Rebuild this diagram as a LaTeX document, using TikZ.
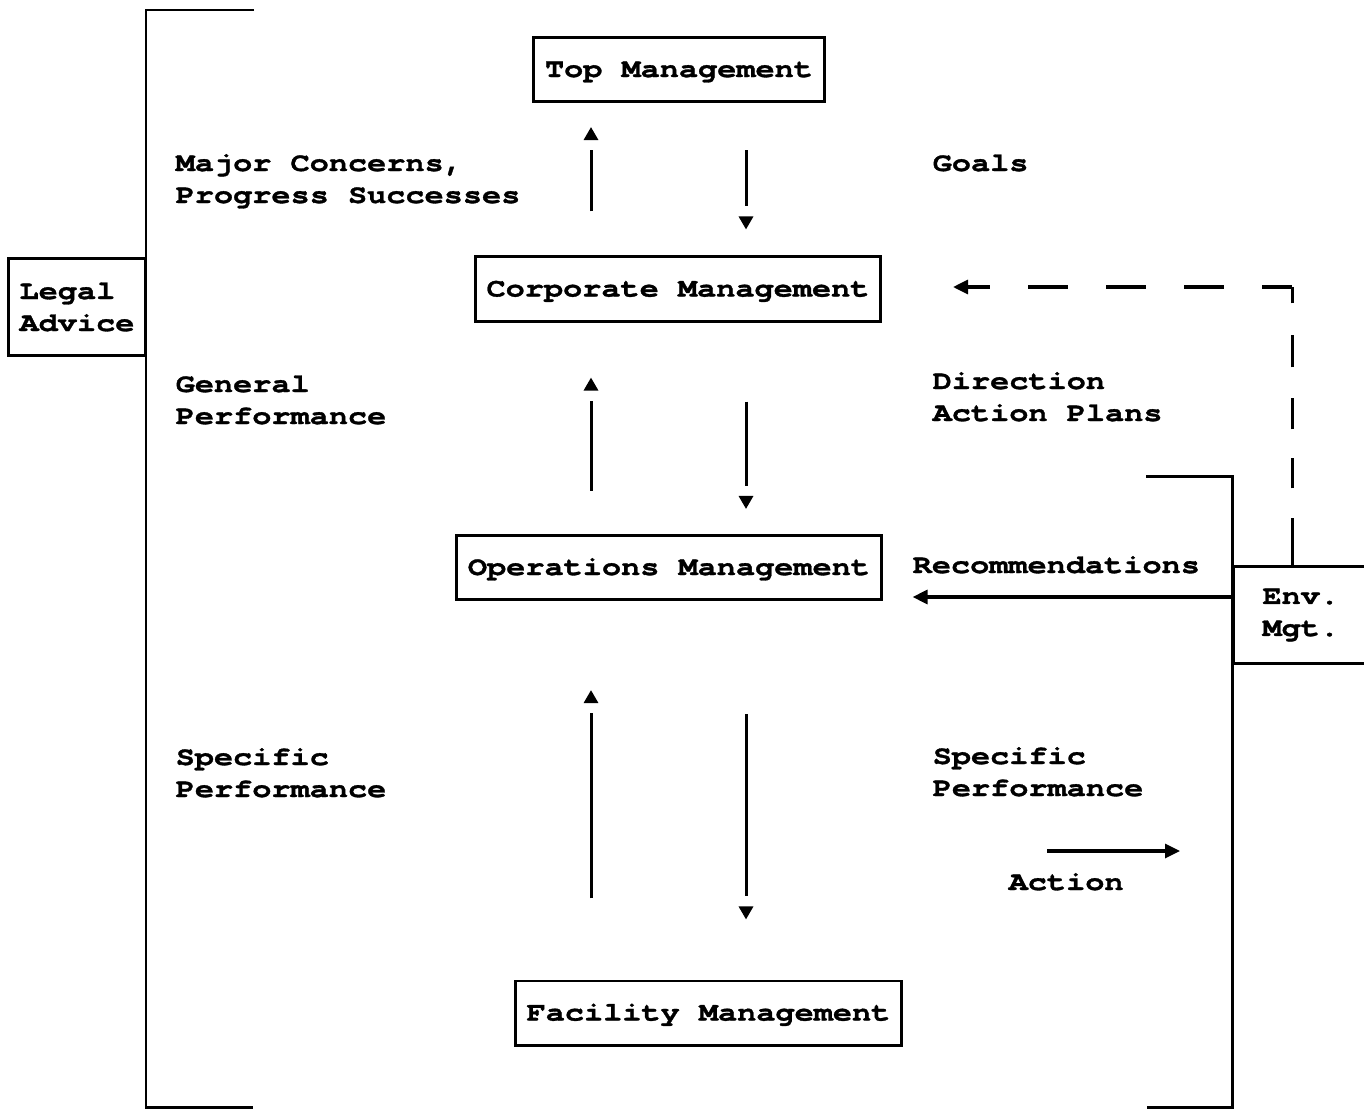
\documentclass[tikz,border=0pt]{standalone}
\usepackage{fontspec}
\setmainfont{texgyrecursor}[Extension=.otf, UprightFont=*-regular, BoldFont=*-bold,
  FakeStretch=1.21, Ligatures=NoCommon, BoldFeatures={FakeBold=1.2}]
\usetikzlibrary{arrows.meta, decorations.markings}

\tikzset{
  mgmt/.style={draw, line width=0.85pt, inner xsep=0.11cm, inner ysep=0pt, minimum height=0.64cm, text height=0.15cm, text depth=0pt},
  side/.style={draw, line width=0.85pt, align=left, inner xsep=0.11cm},
  note/.style={anchor=base west, align=left, inner sep=0pt},
  rail/.style={line width=0.85pt},
  % shaft stops short of the head: #1 = head position, #2 = shaft end
  flow/.style 2 args={rail, shorten >=#2,
    postaction={decorate, decoration={markings,
      mark=at position -#1 with {\arrow{Triangle[width=0.14cm,length=0.13cm]}}}}},
  feed/.style={line width=0.9pt, -{Triangle[width=0.14cm,length=0.15cm]}},
}

\begin{document}
\begin{tikzpicture}[x=0.01cm, y=-0.01cm, every node/.style={font=\fontsize{7.5}{9.1}\selectfont\bfseries}]
\useasboundingbox (0,0) rectangle (1364,1109);
\clip (0,0) rectangle (1364,1109);

% management levels
\node[mgmt] (top) at (679,69.5) {Top Management};
\node[mgmt] (corp) at (678,289) {Corporate Management};
\node[mgmt] (ops) at (669,567.5) {Operations Management};
\node[mgmt] (fac) at (708.5,1013) {Facility Management};

% side functions
\node[side, minimum width=1.36cm, minimum height=0.97cm] (legal) at (77,307) {Legal\\Advice};
\node[side, anchor=west, text width=1.4cm, inner xsep=0.29cm, minimum height=0.96cm] (env) at (1232,615) {Env.\\Mgt.};

% flow labels (base = last line)
\node[note] (concerns) at (175,203) {Major Concerns,\\Progress Successes};
\node[note] (goals) at (932,171) {Goals};
\node[note] (general) at (175,424) {General\\Performance};
\node[note] (direction) at (932,421) {Direction\\Action Plans};
\node[note] (recs) at (912,573) {Recommendations};
\node[note] (specl) at (175,797) {Specific\\Performance};
\node[note] (specr) at (932,796) {Specific\\Performance};
\node[note] (action) at (1008,890) {Action};

% reporting up / directing down
\coordinate (upx) at (591,0);
\coordinate (downx) at (746,0);
\draw[flow={0.24cm}{0.47cm}, shorten <=0.44cm] (corp.north -| upx) -- (top.south -| upx);
\draw[flow={0.26cm}{0.49cm}, shorten <=0.47cm] (top.south -| downx) -- (corp.north -| downx);
\draw[flow={0.55cm}{0.78cm}, shorten <=0.43cm] (ops.north -| upx) -- (corp.south -| upx);
\draw[flow={0.25cm}{0.48cm}, shorten <=0.79cm] (corp.south -| downx) -- (ops.north -| downx);
\draw[flow={0.89cm}{1.12cm}, shorten <=0.81cm] (fac.north -| upx) -- (ops.south -| upx);
\draw[flow={0.60cm}{0.83cm}, shorten <=1.13cm] (ops.south -| downx) -- (fac.north -| downx);

% brackets
\draw[rail] (254,10) -- (146,10) -- (146,1107) -- (253,1107);
\draw[rail] (1146,476) -- (1232,476) -- (1232,1107) -- (1147,1107);

% env. mgt. feedback
\draw[feed, shorten >=0.30cm] ([yshift=0.18cm]env.west) -- ([yshift=0.18cm]env.west -| ops.east);
\coordinate (bend) at (1292,287);
\draw[rail, dash pattern=on 0.47cm off 0.30cm on 0.30cm off 0.29cm on 0.31cm off 0.31cm on 0.32cm off 0.32cm on 0.18cm off 1cm]
  (env.north -| bend) -- (bend);
\draw[feed, dash pattern=on 0.40cm off 0.38cm, dash phase=0.10cm, shorten >=0.71cm] (bend) -- (bend -| corp.east);

\coordinate (acta) at (1047,851);
\coordinate (actb) at (1180,851);
\draw[feed] (acta) -- (actb);
\end{tikzpicture}
\end{document}
